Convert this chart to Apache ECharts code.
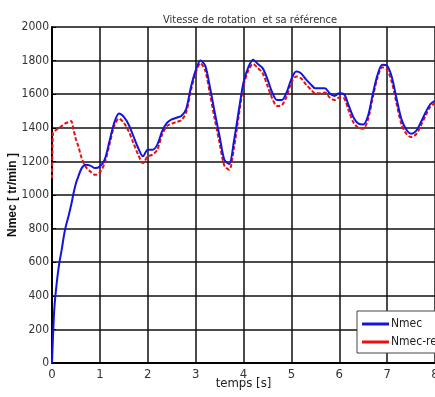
<!DOCTYPE html>
<html>
<head>
<meta charset="utf-8">
<script src="https://cdn.jsdelivr.net/npm/echarts@6/dist/echarts.min.js"></script>
<style>
  html, body { margin: 0; padding: 0; background: #fff; }
  #chart { width: 435px; height: 397px; }
</style>
</head>
<body>
<div id="chart"></div>
<script>
let fontName = "'DejaVu Sans Condensed', 'Liberation Sans Narrow', 'Liberation Sans', sans-serif";

// temps [s]
let temps = [0, 0.02, 0.05, 0.1, 0.15, 0.2, 0.27, 0.35, 0.4, 0.45, 0.5, 0.55, 0.62, 0.7, 0.8, 0.9,
  1.0, 1.1, 1.2, 1.3, 1.4, 1.5, 1.6, 1.7, 1.8, 1.9,
  2.0, 2.1, 2.2, 2.3, 2.4, 2.5, 2.6, 2.7, 2.8, 2.9,
  3.0, 3.1, 3.2, 3.3, 3.4, 3.5, 3.6, 3.7, 3.8, 3.9,
  4.0, 4.1, 4.2, 4.3, 4.4, 4.5, 4.6, 4.7, 4.8, 4.9,
  5.0, 5.1, 5.2, 5.3, 5.4, 5.5, 5.6, 5.7, 5.8, 5.9,
  6.0, 6.1, 6.2, 6.3, 6.4, 6.5, 6.6, 6.7, 6.8, 6.9,
  7.0, 7.1, 7.2, 7.3, 7.4, 7.5, 7.6, 7.7, 7.8, 7.9, 8.0];

// vitesse mesuree
let nmec = [0, 150, 330, 480, 590, 670, 790, 880, 940, 1010, 1070, 1110, 1160, 1180, 1175, 1160,
  1170, 1210, 1320, 1430, 1485, 1465, 1420, 1350, 1280, 1230,
  1270, 1270, 1300, 1380, 1430, 1450, 1460, 1470, 1510, 1640,
  1740, 1800, 1770, 1640, 1490, 1350, 1210, 1185, 1320, 1500,
  1670, 1760, 1805, 1780, 1755, 1690, 1610, 1565, 1565, 1610,
  1690, 1735, 1725, 1690, 1660, 1635, 1635, 1635, 1605, 1590,
  1605, 1600, 1530, 1460, 1425, 1420, 1470, 1600, 1715, 1775,
  1770, 1700, 1570, 1450, 1390, 1365, 1380, 1430, 1490, 1540, 1560];

// reference
let nmecRef = [1100, 1370, 1380, 1390, 1400, 1410, 1425, 1435, 1440, 1390, 1330, 1290, 1220, 1170, 1140, 1120,
  1135, 1190, 1300, 1410, 1455, 1430, 1380, 1310, 1240, 1190,
  1230, 1240, 1270, 1360, 1410, 1425, 1435, 1445, 1490, 1620,
  1725, 1785, 1740, 1600, 1450, 1310, 1175, 1150, 1280, 1470,
  1650, 1740, 1780, 1755, 1725, 1650, 1575, 1530, 1535, 1585,
  1670, 1705, 1695, 1660, 1630, 1605, 1605, 1610, 1580, 1565,
  1580, 1575, 1500, 1430, 1400, 1395, 1450, 1580, 1700, 1760,
  1745, 1670, 1540, 1420, 1365, 1345, 1360, 1410, 1470, 1525, 1545];

function pairs(xs, ys) {
  return xs.map(function (x, i) { return [x, ys[i]]; });
}

let option = {
  animation: false,
  backgroundColor: '#fff',
  title: {
    text: 'Vitesse de rotation  et sa référence',
    left: 245,
    textAlign: 'center',
    top: 10,
    textStyle: { fontFamily: fontName, fontSize: 11, fontWeight: 'normal', color: '#333' }
  },
  grid: { left: 52, top: 27, right: 0, bottom: 34, outerBoundsMode: 'none', containLabel: false },
  legend: {
    orient: 'vertical',
    left: 357,
    top: 311,
    backgroundColor: '#fff',
    borderColor: '#444',
    borderWidth: 1,
    borderRadius: 0,
    padding: [7, 8, 5, 5],
    itemGap: 6,
    itemWidth: 27,
    itemHeight: 3,
    icon: 'rect',
    textStyle: { fontFamily: fontName, fontSize: 12, color: '#222', padding: [0, 0, 0, -3] },
    data: ['Nmec', 'Nmec-ref']
  },
  xAxis: {
    type: 'value',
    min: 0,
    max: 8,
    interval: 1,
    name: 'temps [s]',
    nameLocation: 'middle',
    nameGap: 14,
    nameMoveOverlap: false,
    nameTextStyle: { fontFamily: fontName, fontSize: 13, color: '#222' },
    axisLine: { lineStyle: { color: '#000', width: 2 } },
    axisTick: { show: false },
    axisLabel: { fontFamily: fontName, fontSize: 13, color: '#333', margin: 5 },
    splitLine: { lineStyle: { color: '#111', width: 1.5 } }
  },
  yAxis: {
    type: 'value',
    min: 0,
    max: 2000,
    interval: 200,
    name: 'Nmec [ tr/min ]',
    nameLocation: 'middle',
    nameGap: 33,
    nameMoveOverlap: false,
    nameTextStyle: { fontFamily: "'Liberation Sans', Arial, sans-serif", fontSize: 12, fontWeight: 'bold', color: '#111' },
    axisLine: { show: true, lineStyle: { color: '#000', width: 2 } },
    axisTick: { show: true, inside: true, length: 4, lineStyle: { color: '#000' } },
    axisLabel: {
      fontFamily: fontName, fontSize: 12, color: '#333', margin: 3,
      formatter: function (v) { return String(v); }
    },
    splitLine: { lineStyle: { color: '#111', width: 1.5 } }
  },
  series: [
    {
      name: 'Nmec-ref',
      type: 'line',
      data: pairs(temps, nmecRef),
      smooth: 0.3,
      showSymbol: false,
      color: '#e81010',
      lineStyle: { width: 2, type: [4, 2], color: '#e81010' },
      z: 2
    },
    {
      name: 'Nmec',
      type: 'line',
      data: pairs(temps, nmec),
      smooth: 0.3,
      showSymbol: false,
      color: '#1414e0',
      lineStyle: { width: 2, color: '#1414e0' },
      z: 3
    }
  ]
};

let myChart = echarts.init(document.getElementById('chart'));
myChart.setOption(option);
</script>
</body>
</html>
